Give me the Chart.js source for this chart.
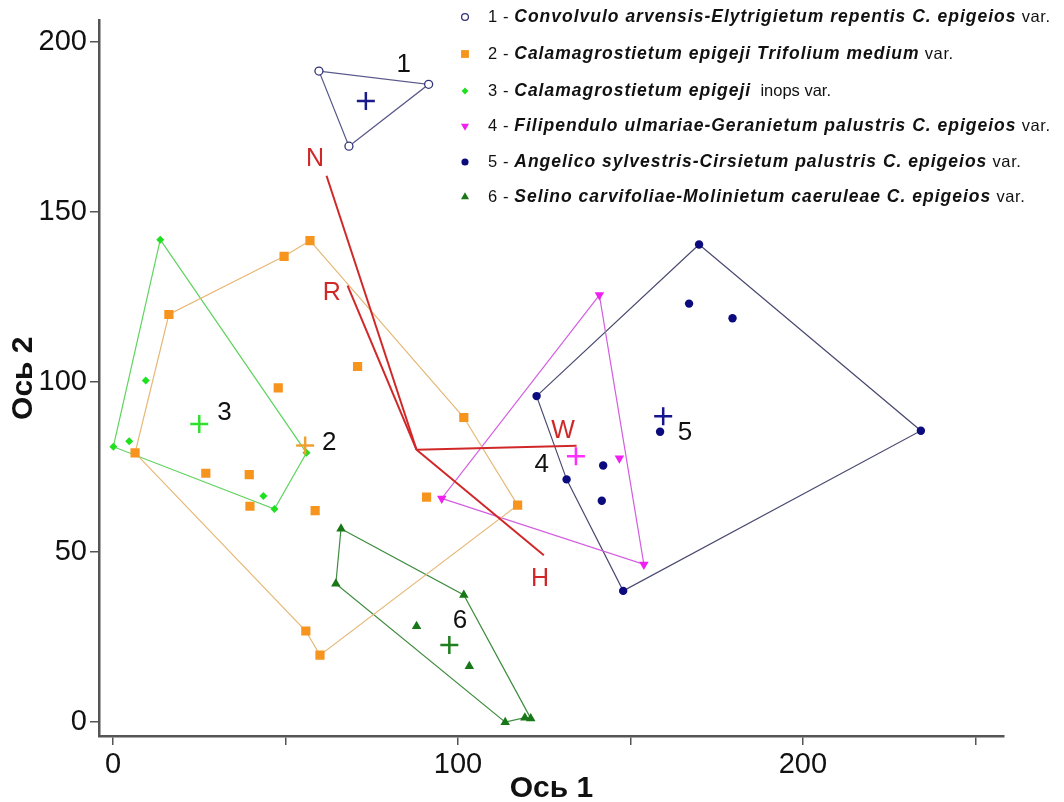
<!DOCTYPE html>
<html>
<head>
<meta charset="utf-8">
<script src="https://cdn.jsdelivr.net/npm/chart.js@4.4.1/dist/chart.umd.min.js"></script>
<style>
  html, body { margin: 0; padding: 0; background: #fff; }
  #wrap { width: 1064px; height: 802px; }
</style>
</head>
<body>
<div id="wrap"><canvas id="myChart" width="1064" height="802"></canvas></div>
<script>
/*
 groups 1..6 -> releves on ordination axes (Ось 1, Ось 2)
 hull -> index order of the polygon drawn round each group
 N R W H -> ecological factor vectors
*/
const g1x = [59.7, 91.5, 68.4]
const g1y = [191.5, 187.6, 169.4]
const g2x = [57.1, 49.6, 16.2, 70.9, 47.9, 101.7, 6.4, 26.9, 39.5, 39.7, 58.6, 90.9, 117.3, 55.9, 60.0]
const g2y = [141.6, 137.0, 119.9, 104.6, 98.3, 89.6, 79.2, 73.2, 72.8, 63.5, 62.2, 66.2, 63.8, 26.8, 19.7]
const g3x = [13.7, 9.5, 4.7, 0.1, 56.1, 43.6, 46.8]
const g3y = [141.9, 100.5, 82.6, 81.0, 79.2, 66.5, 62.7]
const g4x = [141.0, 146.8, 95.3, 153.9]
const g4y = [125.6, 77.6, 65.8, 46.4]
const g5x = [169.9, 167.0, 179.6, 122.8, 234.2, 158.6, 142.1, 131.5, 141.7, 147.9]
const g5y = [140.5, 123.1, 118.8, 95.9, 85.7, 85.4, 75.5, 71.4, 65.1, 38.6]
const g6x = [66.1, 64.6, 101.7, 88.0, 103.3, 113.7, 119.4, 121.1]
const g6y = [56.9, 40.7, 37.4, 28.2, 16.4, 0.0, 1.3, 1.1]

const hull1 = [0, 1, 2]
const hull2 = [0, 5, 12, 14, 13, 6, 2, 1]
const hull3 = [0, 4, 6, 3]
const hull4 = [0, 3, 2]
const hull5 = [0, 4, 9, 7, 3]
const hull6 = [0, 2, 7, 6, 5, 1]

// group centres (+) and their number labels
const groupNames = ['1', '2', '3', '4', '5', '6']
const centX = [73.3, 55.7, 25.0, 134.2, 159.5, 97.5]
const centY = [182.7, 81.4, 87.7, 78.2, 90.0, 22.7]
const labX = [84.3, 62.7, 32.3, 124.3, 165.8, 100.6]
const labY = [193.3, 82.1, 91.0, 75.8, 85.2, 29.9]

// factor vectors
const vecNames = ['N', 'R', 'W', 'H']
const vecX0 = 88.0
const vecY0 = 80.1
const vecX = [61.9, 68.0, 134.4, 124.9]
const vecY = [160.7, 128.4, 81.3, 49.1]
const vecLabX = [58.6, 63.4, 130.5, 123.8]
const vecLabY = [165.6, 126.3, 85.5, 42.1]

const xTicks = [0, 50, 100, 150, 200, 250]
const xTickLabels = ['0', '', '100', '', '200', '']

const legendRows = [
  ['1 - ', 'Convolvulo arvensis-Elytrigietum repentis C. epigeios', ' var.'],
  ['2 - ', 'Calamagrostietum epigeji Trifolium medium', ' var.'],
  ['3 - ', 'Calamagrostietum epigeji', '  inops var.'],
  ['4 - ', 'Filipendulo ulmariae-Geranietum palustris C. epigeios', ' var.'],
  ['5 - ', 'Angelico sylvestris-Cirsietum palustris C. epigeios', ' var.'],
  ['6 - ', 'Selino carvifoliae-Molinietum caeruleae C. epigeios', ' var.']
]

const FONT = '"Liberation Sans", Arial, Helvetica, sans-serif'
Chart.defaults.font.family = FONT

const styles = [
  {pt: 'circle', r: 4, rot: 0, fill: '#ffffff', stroke: '#33337a', bw: 1.3, hull: '#5a5a8c', cross: '#1a1a8a'},
  {pt: 'rect', r: 6.5, rot: 0, fill: '#f7941d', stroke: '#f7941d', bw: 0, hull: '#e6b877', cross: '#f0a030'},
  {pt: 'rectRot', r: 4, rot: 0, fill: '#1fe01f', stroke: '#1fe01f', bw: 0, hull: '#5fd35f', cross: '#2fe02f'},
  {pt: 'triangle', r: 5.5, rot: 180, fill: '#f020f0', stroke: '#f020f0', bw: 0, hull: '#d35fe0', cross: '#ff30ff'},
  {pt: 'circle', r: 4.2, rot: 0, fill: '#0b0b7e', stroke: '#0b0b7e', bw: 0, hull: '#4b4b72', cross: '#151590'},
  {pt: 'triangle', r: 5.5, rot: 0, fill: '#187818', stroke: '#187818', bw: 0, hull: '#3f8c3f', cross: '#1f7f1f'}
]

const groupsX = [g1x, g2x, g3x, g4x, g5x, g6x]
const groupsY = [g1y, g2y, g3y, g4y, g5y, g6y]
const hulls = [hull1, hull2, hull3, hull4, hull5, hull6]

const toPts = (xs, ys) => xs.map((v, i) => ({x: v, y: ys[i]}))

const datasets = []

// hull polygons
hulls.forEach((h, g) => {
  const pts = h.concat([h[0]]).map(i => ({x: groupsX[g][i], y: groupsY[g][i]}))
  datasets.push({
    data: pts, showLine: true, borderColor: styles[g].hull, borderWidth: 1.2,
    pointRadius: 0, fill: false, order: 5
  })
})

// factor vectors
vecNames.forEach((n, i) => {
  datasets.push({
    data: [{x: vecX0, y: vecY0}, {x: vecX[i], y: vecY[i]}], showLine: true,
    borderColor: '#d02828', borderWidth: 2, pointRadius: 0, order: 4
  })
})

// releves
groupsX.forEach((xs, g) => {
  const s = styles[g]
  datasets.push({
    data: toPts(xs, groupsY[g]), pointStyle: s.pt, pointRadius: s.r, pointRotation: s.rot,
    backgroundColor: s.fill, borderColor: s.stroke, borderWidth: s.bw, order: 2
  })
})

// centres
datasets.push({
  data: toPts(centX, centY), pointStyle: 'cross', pointRadius: 9, borderWidth: 2.5,
  borderColor: styles.map(s => s.cross), order: 1
})

const overlay = {
  id: 'overlay',
  afterDraw(chart) {
    const {ctx} = chart
    const sx = chart.scales.x, sy = chart.scales.y
    ctx.save()
    ctx.textAlign = 'center'
    ctx.textBaseline = 'middle'
    ctx.font = '26px ' + FONT
    ctx.fillStyle = '#111111'
    groupNames.forEach((t, i) => ctx.fillText(t, sx.getPixelForValue(labX[i]), sy.getPixelForValue(labY[i])))
    ctx.fillStyle = '#d02828'
    ctx.font = '25px ' + FONT
    vecNames.forEach((t, i) => ctx.fillText(t, sx.getPixelForValue(vecLabX[i]), sy.getPixelForValue(vecLabY[i])))

    // legend
    const rowY = [17, 54, 91, 126, 162, 197]
    const fonts = ['16.5px ' + FONT, 'italic bold 17.5px ' + FONT, '16.5px ' + FONT]
    const narrow = '16.5px "Liberation Sans Narrow", "Arial Narrow", ' + FONT
    ctx.textAlign = 'left'
    legendRows.forEach((row, i) => {
      const s = styles[i]
      ctx.fillStyle = s.fill
      ctx.strokeStyle = s.stroke
      ctx.lineWidth = s.bw
      Chart.helpers.drawPoint(ctx, {pointStyle: s.pt, radius: s.r * 0.85, rotation: s.rot, borderWidth: s.bw}, 465, rowY[i])
      let x = 488
      ctx.fillStyle = '#111111'
      row.forEach((part, k) => {
        const isNarrow = (i === 2 && k === 2)
        ctx.font = isNarrow ? narrow : fonts[k]
        ctx.letterSpacing = isNarrow ? '0px' : (k === 1 ? '1px' : '0.6px')
        ctx.fillText(part, x, rowY[i])
        x += ctx.measureText(part).width
      })
    })
    ctx.letterSpacing = '0px'
    ctx.restore()
  }
}

const axisColor = '#555555'

new Chart(document.getElementById('myChart'), {
  type: 'scatter',
  data: {datasets: datasets},
  options: {
    responsive: false,
    animation: false,
    layout: {padding: {top: 13, right: 60, left: 0, bottom: 0}},
    plugins: {legend: {display: false}, tooltip: {enabled: false}},
    scales: {
      x: {
        type: 'linear', min: -4.06, max: 258.3,
        border: {display: true, color: axisColor, width: 2.5},
        grid: {drawOnChartArea: false, drawTicks: true, tickLength: 9, color: axisColor, lineWidth: 1.5},
        afterBuildTicks: s => { s.ticks = xTicks.map(v => ({value: v})) },
        ticks: {
          padding: 3, color: '#111111', font: {size: 29}, maxRotation: 0, autoSkip: false,
          callback: (v) => xTickLabels[xTicks.indexOf(v)]
        },
        title: {display: true, text: 'Ось 1', color: '#111111', font: {size: 30, weight: 'bold', lineHeight: 0.9}, padding: {top: 0, bottom: 0}},
        afterFit: s => { s.height = 66 }
      },
      y: {
        type: 'linear', min: -4.08, max: 206.4,
        border: {display: true, color: axisColor, width: 2.5},
        grid: {drawOnChartArea: false, drawTicks: true, tickLength: 9, color: axisColor, lineWidth: 1.5},
        ticks: {stepSize: 50, includeBounds: false, padding: 3, color: '#111111', font: {size: 29}},
        title: {display: true, text: 'Ось 2', color: '#111111', font: {size: 30, weight: 'bold', lineHeight: 0.9}, padding: {top: 10, bottom: 0}},
        afterFit: s => { s.width = 99 }
      }
    }
  },
  plugins: [overlay]
})
</script>
</body>
</html>
